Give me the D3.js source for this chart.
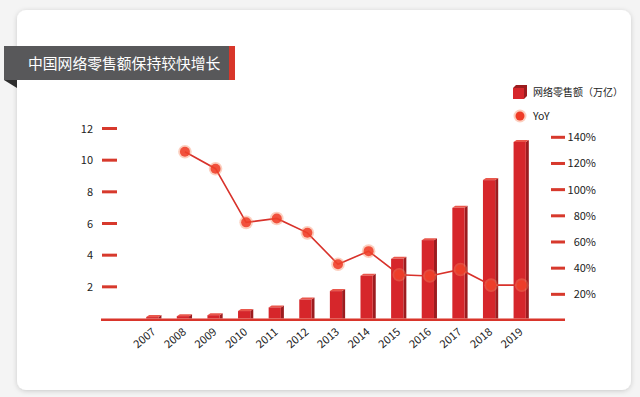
<!DOCTYPE html>
<html>
<head>
<meta charset="utf-8">
<script src="https://cdn.jsdelivr.net/npm/d3@7"></script>
<style>
  html, body { margin: 0; padding: 0; background: #f4f4f4; }
  svg { display: block; }
  text { font-family: "Noto Sans CJK SC", "Noto Sans", sans-serif; }
</style>
</head>
<body>
<svg id="chart" width="640" height="397"></svg>
<script>
// data
var years = ["2007","2008","2009","2010","2011","2012","2013","2014","2015","2016","2017","2018","2019"];
var sales = [0.09, 0.15, 0.21, 0.47, 0.70, 1.20, 1.73, 2.70, 3.77, 4.95, 6.99, 8.74, 11.15];
var yoy = [null, 129, 116, 75, 78, 67, 43, 53, 35, 34, 39, 27, 27];
var leftTicks = [2, 4, 6, 8, 10, 12];
var rightTicks = [20, 40, 60, 80, 100, 120, 140];
var title = "中国网络零售额保持较快增长";
var legendNames = ["网络零售额（万亿）", "YoY"];

var svg = d3.select("#chart");
var red = "#d6262b";

var defs = svg.append("defs");
var shadow = defs.append("filter").attr("id", "shadow")
    .attr("x", "-5%").attr("y", "-5%").attr("width", "110%").attr("height", "110%");
shadow.append("feDropShadow").attr("dx", 0).attr("dy", 1).attr("stdDeviation", 2.5)
    .attr("flood-color", "#000").attr("flood-opacity", 0.18);

// card
svg.append("rect")
  .attr("x", 17).attr("y", 10).attr("width", 614).attr("height", 380)
  .attr("rx", 9).attr("fill", "#fff").attr("filter", "url(#shadow)");

// title banner
svg.append("path").attr("d", "M4,80 L17,80 L17,88 Z").attr("fill", "#2e2e2e");
svg.append("rect").attr("x", 4).attr("y", 46).attr("width", 226).attr("height", 34).attr("fill", "#58585a");
svg.append("rect").attr("x", 229).attr("y", 46).attr("width", 6).attr("height", 34).attr("fill", "#d8362a");
svg.append("text").attr("x", 28).attr("y", 69)
  .attr("fill", "#fff").style("font-size", "14.8px").text(title);

// scales
var x = d3.scaleBand().domain(years).range([137, 535]).paddingInner(0.6).paddingOuter(0.3);
var yL = d3.scaleLinear().domain([0, 12]).range([318.5, 128.5]);
var yR = d3.scaleLinear().domain([0, 140]).range([320.5, 137.3]);
var bw = x.bandwidth();
var depth = 3;

// left axis ticks
var gl = svg.append("g");
gl.selectAll("rect").data(leftTicks).enter().append("rect")
  .attr("x", 102).attr("width", 15).attr("height", 3)
  .attr("y", function(d){ return yL(d) - 1.5; })
  .attr("fill", "#d7392c");
gl.selectAll("text").data(leftTicks).enter().append("text")
  .attr("x", 93).attr("y", function(d){ return yL(d) + 4; })
  .attr("text-anchor", "end").attr("fill", "#222").style("font-size", "11px")
  .text(function(d){ return d; });

// right axis ticks
var gr = svg.append("g");
gr.selectAll("rect").data(rightTicks).enter().append("rect")
  .attr("x", 551).attr("width", 14).attr("height", 3)
  .attr("y", function(d){ return yR(d) - 1.5; })
  .attr("fill", "#d7392c");
gr.selectAll("text").data(rightTicks).enter().append("text")
  .attr("x", 596).attr("y", function(d){ return yR(d) + 4; })
  .attr("text-anchor", "end").attr("fill", "#222").style("font-size", "11px")
  .text(function(d){ return d + "%"; });

// bars (3d look)
var bars = svg.append("g").selectAll("g").data(years).enter().append("g");
bars.append("path")
  .attr("d", function(d, i){
    var x0 = x(d) + bw, top = yL(sales[i]);
    return "M" + x0 + "," + top + " L" + (x0 + depth) + "," + (top - 2) +
      " L" + (x0 + depth) + "," + yL(0) + " L" + x0 + "," + yL(0) + "Z";
  })
  .attr("fill", "#9c1c1f");
bars.append("path")
  .attr("d", function(d, i){
    var x0 = x(d), top = yL(sales[i]);
    return "M" + x0 + "," + top + " L" + (x0 + depth) + "," + (top - 2) +
      " L" + (x0 + bw + depth) + "," + (top - 2) + " L" + (x0 + bw) + "," + top + "Z";
  })
  .attr("fill", "#e9574c");
bars.append("rect")
  .attr("x", function(d){ return x(d); })
  .attr("y", function(d, i){ return yL(sales[i]); })
  .attr("width", bw)
  .attr("height", function(d, i){ return yL(0) - yL(sales[i]); })
  .attr("fill", red);

// baseline
svg.append("rect").attr("x", 101).attr("y", yL(0)).attr("width", 464).attr("height", 2.5).attr("fill", "#d9352b");

// x labels
svg.append("g").selectAll("text").data(years).enter().append("text")
  .attr("transform", function(d){
    return "translate(" + (x(d) + bw / 2 + 4) + ",333) rotate(-40)";
  })
  .attr("text-anchor", "end").attr("fill", "#222").style("font-size", "11px")
  .text(function(d){ return d; });

// yoy line
var pts = years.map(function(d, i){ return {year: d, v: yoy[i]}; })
  .filter(function(d){ return d.v !== null; });
var line = d3.line()
  .x(function(d){ return x(d.year) + bw / 2 + 2; })
  .y(function(d){ return yR(d.v); });
svg.append("path").datum(pts).attr("d", line)
  .attr("fill", "none").attr("stroke", "#d8322b").attr("stroke-width", 1.6);

var dots = svg.append("g").selectAll("g").data(pts).enter().append("g")
  .attr("transform", function(d){ return "translate(" + (x(d.year) + bw / 2 + 2) + "," + yR(d.v) + ")"; });
dots.append("circle").attr("r", 6.8).attr("fill", "#f7875f").attr("opacity", 0.4);
dots.append("circle").attr("r", 5).attr("fill", "#ef3b26").attr("opacity", 0.85);

// legend
var lg = svg.append("g");
lg.append("path").attr("d", "M513,88 L516,85 L527,85 L527,96 L524,99 Z").attr("fill", "#9c1c1f");
lg.append("rect").attr("x", 513).attr("y", 88).attr("width", 11).attr("height", 11).attr("fill", red);
lg.append("text").attr("x", 533).attr("y", 96).attr("fill", "#222").style("font-size", "10px").text(legendNames[0]);
lg.append("circle").attr("cx", 520).attr("cy", 116).attr("r", 6.5).attr("fill", "#f7875f").attr("opacity", 0.4);
lg.append("circle").attr("cx", 520).attr("cy", 116).attr("r", 4.5).attr("fill", "#ef3b26");
lg.append("text").attr("x", 533).attr("y", 120).attr("fill", "#222").style("font-size", "10.5px").text(legendNames[1]);
</script>
</body>
</html>
